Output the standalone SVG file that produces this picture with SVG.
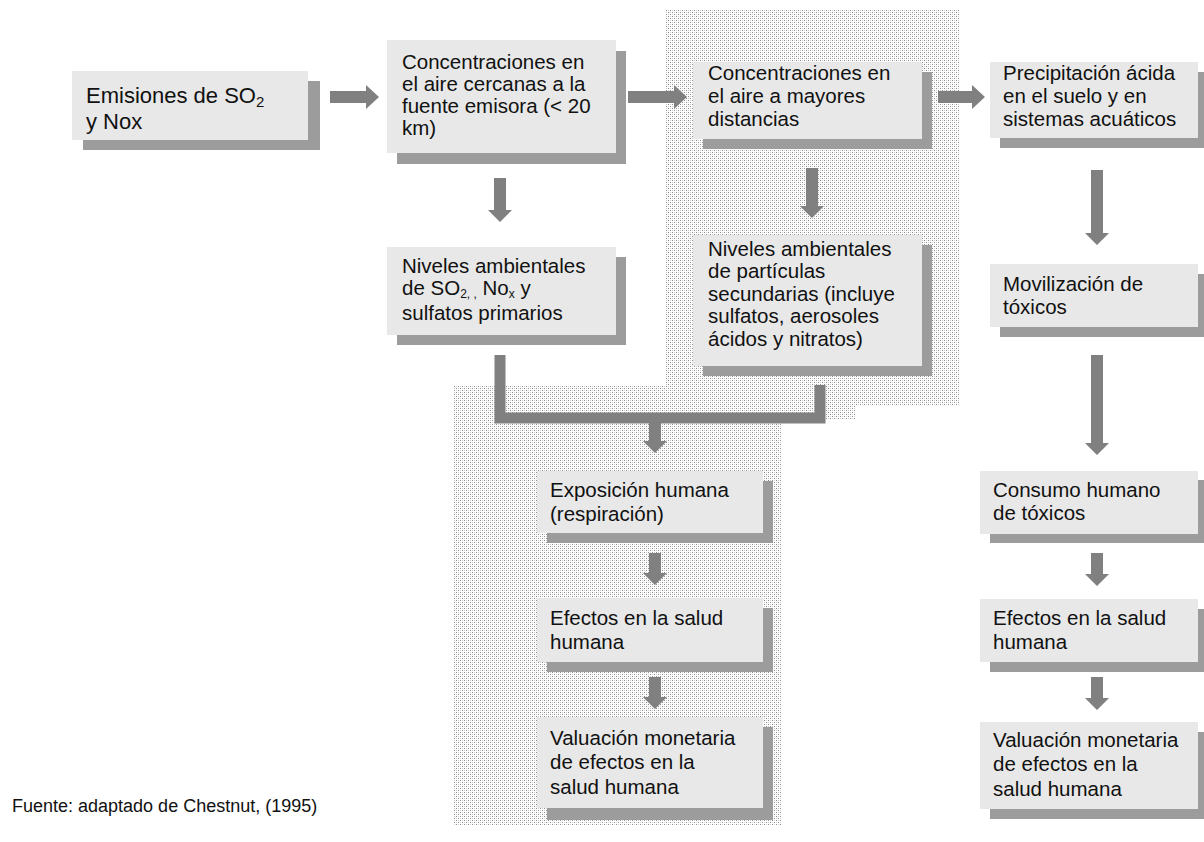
<svg xmlns="http://www.w3.org/2000/svg" width="1204" height="842" viewBox="0 0 1204 842">
<defs>
<pattern id="dots" width="4" height="4" patternUnits="userSpaceOnUse">
<rect x="0" y="0" width="1" height="1" fill="#8e8e8e"/>
<rect x="2" y="2" width="1" height="1" fill="#8e8e8e"/>
<rect x="2" y="0" width="1" height="1" fill="#d0d0d0"/>
<rect x="0" y="2" width="1" height="1" fill="#d0d0d0"/>
</pattern>
</defs>
<style>
.bg{fill:url(#dots);stroke:none}
.box{fill:#e8e8e8}
.sh{fill:#9c9c9c}
.t{font-family:"Liberation Sans",Arial,sans-serif;font-size:20.5px;fill:#111}
.big{font-size:22px}
.ft{font-size:18px}
.ar{fill:#808080}
.br{fill:none;stroke:#808080;stroke-width:11}
</style>
<rect width="1204" height="842" fill="#fff"/>
<g id="backgrounds">
<rect class="bg" x="665" y="10" width="295" height="396"/>
<rect class="bg" x="453" y="385" width="329" height="440"/>
<rect class="bg" x="782" y="385" width="74" height="35"/>
</g>
<g id="connectors">
<path class="ar" d="M330 91 H366 V85 L379 97 L366 109 V103 H330 Z"/>
<path class="ar" d="M628 91 H674 V85 L687 97 L674 109 V103 H628 Z"/>
<path class="ar" d="M938 91 H972 V85 L985 97 L972 109 V103 H938 Z"/>
<path class="ar" d="M494 178 H506 V210 H512 L500 222 L488 210 H494 Z"/>
<path class="ar" d="M806 168 H818 V206 H824 L812 218 L800 206 H806 Z"/>
<path class="br" d="M500 355 V418 H820 V385"/>
<path class="ar" d="M649 423 H661 V441 H667 L655 453 L643 441 H649 Z"/>
<path class="ar" d="M649 553 H661 V573 H667 L655 585 L643 573 H649 Z"/>
<path class="ar" d="M649 677 H661 V697 H667 L655 709 L643 697 H649 Z"/>
<path class="ar" d="M1091 170 H1103 V233 H1109 L1097 245 L1085 233 H1091 Z"/>
<path class="ar" d="M1091 355 H1103 V443 H1109 L1097 455 L1085 443 H1091 Z"/>
<path class="ar" d="M1091 553 H1103 V574 H1109 L1097 586 L1085 574 H1091 Z"/>
<path class="ar" d="M1091 677 H1103 V698 H1109 L1097 710 L1085 698 H1091 Z"/>
</g>
<g id="n1">
<rect class="sh" x="83" y="81" width="237" height="69"/>
<rect class="box" x="72" y="71" width="236" height="69"/>
<text class="t big" x="86" y="103">Emisiones de SO<tspan baseline-shift="-4" font-size="15">2</tspan></text>
<text class="t big" x="86" y="129">y Nox</text>
</g>
<g id="n2">
<rect class="sh" x="397" y="51" width="229" height="113"/>
<rect class="box" x="387" y="40" width="229" height="113"/>
<text class="t" x="402" y="69">Concentraciones en</text>
<text class="t" x="402" y="91">el aire cercanas a la</text>
<text class="t" x="402" y="113">fuente emisora (&lt; 20</text>
<text class="t" x="402" y="135">km)</text>
</g>
<g id="n3">
<rect class="sh" x="703" y="72" width="229" height="77"/>
<rect class="box" x="693" y="62" width="229" height="77"/>
<text class="t" x="708" y="80">Concentraciones en</text>
<text class="t" x="708" y="103">el aire a mayores</text>
<text class="t" x="708" y="126">distancias</text>
</g>
<g id="n4">
<rect class="sh" x="1000" y="72" width="204" height="76"/>
<rect class="box" x="990" y="62" width="208" height="76"/>
<text class="t" x="1003" y="80">Precipitación ácida</text>
<text class="t" x="1003" y="103">en el suelo y en</text>
<text class="t" x="1003" y="126">sistemas acuáticos</text>
</g>
<g id="n5">
<rect class="sh" x="397" y="257" width="229" height="88"/>
<rect class="box" x="387" y="247" width="229" height="88"/>
<text class="t" x="402" y="273">Niveles ambientales</text>
<text class="t" x="402" y="295">de SO<tspan baseline-shift="-3" font-size="12">2, ,</tspan> No<tspan baseline-shift="-3" font-size="12">x</tspan> y</text>
<text class="t" x="402" y="320">sulfatos primarios</text>
</g>
<g id="n6">
<rect class="sh" x="703" y="245" width="229" height="131"/>
<rect class="box" x="693" y="235" width="229" height="131"/>
<text class="t" x="708" y="256">Niveles ambientales</text>
<text class="t" x="708" y="278">de partículas</text>
<text class="t" x="708" y="301">secundarias (incluye</text>
<text class="t" x="708" y="323">sulfatos, aerosoles</text>
<text class="t" x="708" y="346">ácidos y nitratos)</text>
</g>
<g id="n7">
<rect class="sh" x="547" y="481" width="226" height="62"/>
<rect class="box" x="537" y="471" width="226" height="62"/>
<text class="t" x="550" y="497">Exposición humana</text>
<text class="t" x="550" y="521">(respiración)</text>
</g>
<g id="n8">
<rect class="sh" x="547" y="608" width="226" height="64"/>
<rect class="box" x="537" y="598" width="226" height="64"/>
<text class="t" x="550" y="625">Efectos en la salud</text>
<text class="t" x="550" y="649">humana</text>
</g>
<g id="n9">
<rect class="sh" x="547" y="727" width="226" height="93"/>
<rect class="box" x="537" y="717" width="226" height="91"/>
<text class="t" x="550" y="745">Valuación monetaria</text>
<text class="t" x="550" y="769">de efectos en la</text>
<text class="t" x="550" y="794">salud humana</text>
</g>
<g id="n10">
<rect class="sh" x="1000" y="274" width="204" height="63"/>
<rect class="box" x="990" y="264" width="208" height="63"/>
<text class="t" x="1003" y="291">Movilización de</text>
<text class="t" x="1003" y="314">tóxicos</text>
</g>
<g id="n11">
<rect class="sh" x="990" y="480" width="214" height="63"/>
<rect class="box" x="980" y="471" width="218" height="63"/>
<text class="t" x="993" y="497">Consumo humano</text>
<text class="t" x="993" y="520">de tóxicos</text>
</g>
<g id="n12">
<rect class="sh" x="990" y="609" width="214" height="63"/>
<rect class="box" x="980" y="599" width="218" height="63"/>
<text class="t" x="993" y="625">Efectos en la salud</text>
<text class="t" x="993" y="649">humana</text>
</g>
<g id="n13">
<rect class="sh" x="990" y="732" width="214" height="87"/>
<rect class="box" x="980" y="722" width="218" height="87"/>
<text class="t" x="993" y="747">Valuación monetaria</text>
<text class="t" x="993" y="771">de efectos en la</text>
<text class="t" x="993" y="796">salud humana</text>
</g>
<text class="t ft" x="12" y="812">Fuente: adaptado de Chestnut, (1995)</text>
</svg>
